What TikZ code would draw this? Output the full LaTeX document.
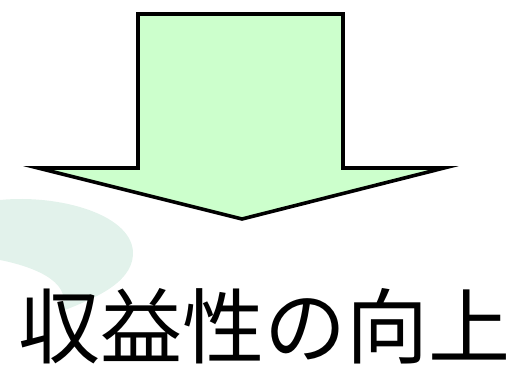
\documentclass[tikz,border=0pt]{standalone}
\usepackage{fontspec}
\newfontfamily\cjk{Noto Sans CJK JP}
\definecolor{arrowfill}{HTML}{CCFFCC}
\definecolor{swoosh}{HTML}{E2F2EB}
\tikzset{
  bigarrow/.style={draw=black, line width=3.6pt, fill=arrowfill, line join=miter},
  title/.style={font=\cjk\fontsize{82}{88}\selectfont, inner sep=0pt}
}
\begin{document}
\begin{tikzpicture}[x=1pt,y=-1pt]
\useasboundingbox (0,0) rectangle (525,366);
% background swoosh
\fill[swoosh] (0,200) .. controls (60,194) and (135,215) .. (133,255)
  .. controls (131,285) and (90,300) .. (60,312)
  .. controls (75,285) and (40,268) .. (0,260) -- cycle;
% arrow
\draw[bigarrow] (138,14) -- (343,14) -- (343,168) -- (444,168) -- (242,219)
  -- (38,168) -- (138,168) -- cycle;
\node[title] (t) at (265,326) {収益性の向上};
\end{tikzpicture}
\end{document}
